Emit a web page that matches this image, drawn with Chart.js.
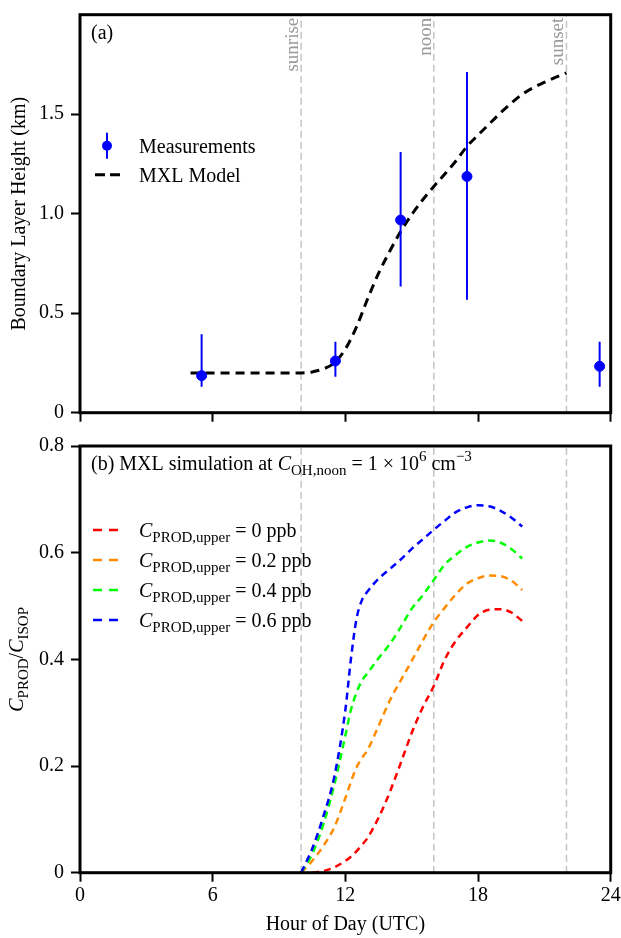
<!DOCTYPE html>
<html>
<head>
<meta charset="utf-8">
<script src="https://cdn.jsdelivr.net/npm/chart.js@4.4.0/dist/chart.umd.min.js"></script>
<style>
  body { margin: 0; background: #fff; }
  #wrap { position: relative; width: 621px; height: 938px; }
  canvas { position: absolute; left: 0; }
</style>
</head>
<body>
<div id="wrap">
  <canvas id="blh" width="621" height="440" style="top:0"></canvas>
  <canvas id="prod" width="621" height="502" style="top:436px"></canvas>
</div>
<script>
// panel (a): boundary layer height
const measHours = [5.5, 11.55, 14.5, 17.5, 23.5]
const measBLH = [0.186, 0.26, 0.968, 1.187, 0.233]
const measLow = [0.131, 0.181, 0.634, 0.568, 0.131]
const measHigh = [0.394, 0.357, 1.31, 1.712, 0.357]

const modelHours = [5, 6, 7, 8, 9, 10, 10.5, 11, 11.5, 12, 12.5, 13, 13.5, 14, 14.5, 15, 15.5, 16, 16.5, 17, 17.5, 18, 18.5, 19, 19.5, 20, 20.5, 21, 21.5, 22]
const modelBLH = [0.2, 0.2, 0.2, 0.2, 0.2, 0.2, 0.205, 0.22, 0.25, 0.32, 0.43, 0.57, 0.70, 0.81, 0.91, 0.995, 1.07, 1.137, 1.20, 1.265, 1.338, 1.395, 1.45, 1.505, 1.555, 1.60, 1.633, 1.66, 1.685, 1.707]

const sunHours = [10, 16, 22]
const sunLabels = ['sunrise', 'noon', 'sunset']

// panel (b): C_PROD / C_ISOP
const prodHours = [10, 10.5, 11, 11.5, 12, 12.25, 12.5, 12.75, 13, 13.5, 14, 14.5, 15, 15.5, 16, 16.5, 17, 17.5, 18, 18.5, 19, 19.5, 20]
const prod00 = [null, 0, 0.003, 0.01, 0.022, 0.03, 0.04, 0.052, 0.065, 0.103, 0.15, 0.205, 0.262, 0.31, 0.35, 0.40, 0.435, 0.46, 0.483, 0.493, 0.494, 0.488, 0.472]
const prod02 = [0, 0.022, 0.05, 0.085, 0.14, 0.17, 0.197, 0.215, 0.23, 0.275, 0.322, 0.36, 0.397, 0.435, 0.47, 0.497, 0.522, 0.542, 0.552, 0.557, 0.556, 0.548, 0.53]
const prod04 = [0, 0.035, 0.09, 0.165, 0.257, 0.305, 0.337, 0.36, 0.374, 0.402, 0.428, 0.46, 0.495, 0.52, 0.549, 0.578, 0.596, 0.611, 0.619, 0.623, 0.619, 0.607, 0.589]
const prod06 = [0, 0.045, 0.105, 0.18, 0.305, 0.40, 0.475, 0.511, 0.527, 0.551, 0.569, 0.587, 0.607, 0.625, 0.643, 0.66, 0.676, 0.685, 0.689, 0.687, 0.679, 0.666, 0.649]
const upperLevels = ['0', '0.2', '0.4', '0.6']
const upperColors = ['#ff0000', '#ff8c00', '#00ff00', '#0000ff']

const serif = "'Liberation Serif', 'Times New Roman', serif"
Chart.defaults.font.family = serif
Chart.defaults.font.size = 20
Chart.defaults.color = '#000'

function xy (xs, ys) {
  return xs.map((x, i) => ({ x, y: ys[i] }))
}

function vlines (xs, ymax) {
  const pts = []
  xs.forEach(x => { pts.push({ x, y: 0 }, { x, y: ymax }, { x, y: null }) })
  return pts
}

function errorBars () {
  const pts = []
  measHours.forEach((h, i) => { pts.push({ x: h, y: measLow[i] }, { x: h, y: measHigh[i] }, { x: h, y: null }) })
  return pts
}

// draw text made of parts (italic, sub, sup)
function rich (ctx, parts, x, y, measureOnly) {
  let w = 0
  parts.forEach(p => {
    const size = (p.sub || p.sup) ? 15 : 20
    ctx.font = (p.i ? 'italic ' : '') + size + 'px ' + serif
    const dy = p.sub ? 5 : p.sup ? -9 : 0
    if (!measureOnly) ctx.fillText(p.t, x + w, y + dy)
    w += ctx.measureText(p.t).width
  })
  return w
}

function frame (ctx, a) {
  ctx.strokeStyle = '#000'
  ctx.lineWidth = 3
  ctx.strokeRect(a.left, a.top, a.right - a.left, a.bottom - a.top)
}

function xAxis (showLabels, height) {
  return {
    type: 'linear',
    min: 0,
    max: 24,
    border: { display: false },
    grid: { drawOnChartArea: false, drawTicks: true, tickLength: 9, tickWidth: 2, tickColor: '#000' },
    ticks: { stepSize: 6, padding: 2, callback: v => showLabels ? String(v) : '' },
    afterFit: s => {
      s.height = height
      s.paddingLeft = 0
      s.paddingRight = 0
    }
  }
}

function yAxis (max, step, fmt) {
  return {
    min: 0,
    max,
    border: { display: false },
    grid: {
      drawOnChartArea: false,
      drawTicks: true,
      tickLength: 9,
      tickWidth: 2,
      tickColor: c => fmt(c.tick.value) === '' ? 'rgba(0,0,0,0)' : '#000'
    },
    ticks: { stepSize: step, padding: 7, callback: v => fmt(v) },
    afterFit: s => {
      s.width = 80
      s.paddingTop = 0
      s.paddingBottom = 0
    }
  }
}

const blhDecor = {
  id: 'blhDecor',
  afterDraw (chart) {
    const { ctx, chartArea: a, scales } = chart
    ctx.save()
    frame(ctx, a)
    ctx.fillStyle = '#999'
    ctx.font = '19px ' + serif
    ctx.textAlign = 'right'
    ctx.textBaseline = 'alphabetic'
    sunHours.forEach((h, i) => {
      const px = scales.x.getPixelForValue(h)
      ctx.save()
      ctx.translate(px - 3, a.top + 3)
      ctx.rotate(-Math.PI / 2)
      ctx.fillText(sunLabels[i], 0, 0)
      ctx.restore()
    })
    ctx.textAlign = 'left'
    ctx.fillStyle = '#000'
    ctx.font = '20px ' + serif
    ctx.fillText('(a)', a.left + 11, a.top + 24)
    // legend
    const lx = a.left + 27
    const ly = a.top + 131
    ctx.strokeStyle = '#0000ff'
    ctx.lineWidth = 2
    ctx.beginPath()
    ctx.moveTo(lx, ly - 13)
    ctx.lineTo(lx, ly + 13)
    ctx.stroke()
    ctx.fillStyle = '#0000ff'
    ctx.beginPath()
    ctx.arc(lx, ly, 5, 0, Math.PI * 2)
    ctx.fill()
    ctx.strokeStyle = '#000'
    ctx.lineWidth = 3
    ctx.setLineDash([10, 5])
    ctx.beginPath()
    ctx.moveTo(lx - 12, ly + 29)
    ctx.lineTo(lx + 13, ly + 29)
    ctx.stroke()
    ctx.setLineDash([])
    ctx.fillStyle = '#000'
    ctx.fillText('Measurements', a.left + 59, ly + 7)
    ctx.fillText('MXL Model', a.left + 59, ly + 36)
    ctx.restore()
  }
}

const prodDecor = {
  id: 'prodDecor',
  afterDraw (chart) {
    const { ctx, chartArea: a } = chart
    ctx.save()
    frame(ctx, a)
    ctx.fillStyle = '#000'
    ctx.textAlign = 'left'
    ctx.textBaseline = 'alphabetic'
    rich(ctx, [
      { t: '(b) MXL simulation at ' }, { t: 'C', i: true }, { t: 'OH,noon', sub: true },
      { t: ' = 1 \u00d7 10' }, { t: '6', sup: true }, { t: ' cm' }, { t: '\u22123', sup: true }
    ], a.left + 11, a.top + 24)
    // legend
    upperLevels.forEach((lvl, i) => {
      const ly = a.top + 84 + i * 30
      ctx.strokeStyle = upperColors[i]
      ctx.lineWidth = 2.5
      ctx.setLineDash([9, 7])
      ctx.beginPath()
      ctx.moveTo(a.left + 13, ly)
      ctx.lineTo(a.left + 39, ly)
      ctx.stroke()
      ctx.setLineDash([])
      ctx.fillStyle = '#000'
      rich(ctx, [{ t: 'C', i: true }, { t: 'PROD,upper', sub: true }, { t: ' = ' + lvl + ' ppb' }], a.left + 59, ly + 7)
    })
    // y title
    const yParts = [{ t: 'C', i: true }, { t: 'PROD', sub: true }, { t: '/' }, { t: 'C', i: true }, { t: 'ISOP', sub: true }]
    const w = rich(ctx, yParts, 0, 0, true)
    ctx.save()
    ctx.translate(23, (a.top + a.bottom) / 2)
    ctx.rotate(-Math.PI / 2)
    rich(ctx, yParts, -w / 2, 0)
    ctx.restore()
    ctx.restore()
  }
}

const vlineStyle = {
  borderColor: '#c4c4c4',
  borderWidth: 1.5,
  borderDash: [7, 4],
  pointRadius: 0,
  spanGaps: false,
  order: 10
}

const blhY = yAxis(2, 0.5, v => v === 0 ? '0' : v >= 2 ? '' : v.toFixed(1))
blhY.title = { display: true, text: 'Boundary Layer Height (km)', padding: { top: 8, bottom: 0 } }

new Chart(document.getElementById('blh').getContext('2d'), {
  type: 'line',
  data: {
    datasets: [
      Object.assign({ data: vlines(sunHours, 2) }, vlineStyle),
      {
        label: 'MXL Model',
        data: xy(modelHours, modelBLH),
        borderColor: '#000',
        borderWidth: 3,
        borderDash: [9, 6],
        pointRadius: 0,
        cubicInterpolationMode: 'monotone',
        order: 3
      },
      {
        data: errorBars(),
        borderColor: '#0000ff',
        borderWidth: 2,
        pointRadius: 0,
        spanGaps: false,
        order: 2
      },
      {
        label: 'Measurements',
        data: xy(measHours, measBLH),
        showLine: false,
        pointRadius: 5,
        pointBackgroundColor: '#0000ff',
        pointBorderColor: '#0000ff',
        order: 1
      }
    ]
  },
  options: {
    responsive: false,
    animation: false,
    layout: { padding: { top: 14.7, right: 10.3, left: 0, bottom: 0 } },
    scales: {
      x: xAxis(false, 27.3),
      y: blhY
    },
    plugins: { legend: { display: false }, tooltip: { enabled: false } }
  },
  plugins: [blhDecor]
})

const prodSeries = [prod00, prod02, prod04, prod06]
const prodX = xAxis(true, 65.3)
prodX.title = { display: true, text: 'Hour of Day (UTC)', padding: { top: 0, bottom: 1 } }

new Chart(document.getElementById('prod').getContext('2d'), {
  type: 'line',
  data: {
    datasets: [Object.assign({ data: vlines(sunHours, 0.8) }, vlineStyle)].concat(
      prodSeries.map((s, i) => ({
        label: upperLevels[i] + ' ppb',
        data: xy(prodHours, s),
        borderColor: upperColors[i],
        borderWidth: 2.5,
        borderDash: [7, 5],
        pointRadius: 0,
        cubicInterpolationMode: 'monotone',
        order: 5 - i
      }))
    )
  },
  options: {
    responsive: false,
    animation: false,
    layout: { padding: { top: 10, right: 10.3, left: 0, bottom: 0 } },
    scales: {
      x: prodX,
      y: yAxis(0.8, 0.2, v => v === 0 ? '0' : v.toFixed(1))
    },
    plugins: { legend: { display: false }, tooltip: { enabled: false } }
  },
  plugins: [prodDecor]
})
</script>
</body>
</html>
